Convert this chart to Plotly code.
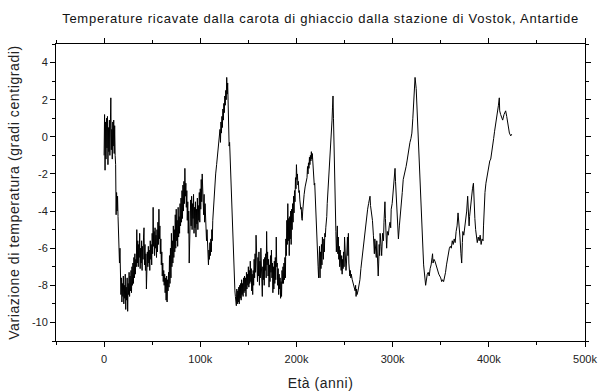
import plotly.graph_objects as go

# Vostok ice core temperature anomaly, (age in thousand years, temperature in deg C)
seg_holocene = [(0,-1.0),(0.5,1.2),(1,-1.8),(1.5,0.8),(2,-1.2),(2.5,1.0),(3,-0.6),(3.5,1.1),(4,-1.5),(4.5,0.5),
                (5,-0.8),(5.5,0.9),(6,-1.0),(6.5,0.6),(7,2.1),(7.5,-0.7),(8,0.4),(8.5,-1.2),(9,0.8),(9.5,-0.5),
                (10,0.9),(10.5,-0.9),(11,0.6),(11.5,-1.0)]
seg_drop1 = [(12,-1.5),(12.5,-4.2),(13,-3.0),(13.5,-4.0),(14,-3.2),(14.5,-4.3),(15,-5.0),(15.5,-6.2),(16,-6.8),
             (16.5,-6.0),(17,-7.8),(17.5,-8.5)]
seg_lgm = [(18,-7.6),(18.5,-8.9),(19,-7.9),(19.5,-8.6),(20,-7.5),(20.5,-9.0),(21,-8.0),(21.5,-8.7),(22,-7.4),
           (22.5,-9.3),(23,-8.1),(23.5,-8.8),(24,-7.6),(24.5,-9.4),(25,-7.9),(25.5,-8.5),(26,-7.3),(26.5,-8.6),
           (27,-7.5),(27.5,-8.3),(28,-7.2),(28.5,-8.4),(29,-7.0),(29.5,-8.0),(30,-6.8),(30.5,-7.9),(31,-6.5),
           (31.5,-7.6),(32,-6.3),(32.5,-7.4),(33,-6.6),(33.5,-7.0)]
seg_mis3a = [(34,-5.0),(34.5,-6.8),(35,-5.6),(35.5,-7.0),(36,-5.8),(36.5,-6.5),(37,-5.2),(37.5,-7.1),(38,-6.0),
             (38.5,-6.8),(39,-5.6),(39.5,-7.2),(40,-5.9),(40.5,-6.6),(41,-5.4),(41.5,-4.9),(42,-6.9),(42.5,-5.8),
             (43,-7.2),(43.5,-6.3),(44,-8.2),(44.5,-6.5)]
seg_mis3b = [(45,-6.2),(45.5,-7.0),(46,-5.9),(46.5,-6.8),(47,-6.1),(47.5,-7.2),(48,-5.6),(48.5,-6.6),(49,-5.8),
             (49.5,-6.9),(50,-5.2),(50.5,-6.3),(51,-3.8),(51.5,-5.9),(52,-5.1),(52.5,-6.4),(53,-4.9),(53.5,-6.0),
             (54,-5.3),(54.5,-6.5),(55,-5.0),(55.5,-6.2),(56,-4.6),(56.5,-5.8),(57,-3.9),(57.5,-5.5),(58,-4.8),
             (58.5,-6.3),(59,-5.5),(59.5,-6.9),(60,-6.2),(60.5,-7.5),(61,-6.8),(61.5,-7.8),(62,-7.2),(62.5,-8.0),
             (63,-7.4),(63.5,-8.4),(64,-7.6),(64.5,-8.8),(65,-7.5),(65.5,-8.9),(66,-7.7),(66.5,-8.3),(67,-7.3),
             (67.5,-8.1)]
seg_mis5a = [(68,-6.4),(68.5,-7.9),(69,-6.0),(69.5,-7.6),(70,-5.2),(70.5,-7.0),(71,-5.6),(71.5,-6.8),(72,-4.8),
             (72.5,-6.5),(73,-5.0),(73.5,-6.2),(74,-4.2),(74.5,-6.0),(75,-3.9),(75.5,-5.6),(76,-4.5),(76.5,-5.9),
             (77,-3.8),(77.5,-5.4),(78,-4.3),(78.5,-5.2),(79,-3.6),(79.5,-4.8),(80,-3.3),(80.5,-4.6),(81,-2.9),
             (81.5,-4.4),(82,-2.6),(82.5,-4.0),(83,-2.4),(83.5,-3.6),(84,-1.7),(84.5,-3.2),(85,-2.5),(85.5,-3.8),
             (86,-2.9),(86.5,-4.5),(87,-3.5),(87.5,-5.2),(88,-4.0),(88.5,-6.8),(89,-4.6),(89.5,-5.4),(90,-3.4),
             (90.5,-4.8),(91,-3.2),(91.5,-5.0),(92,-3.6),(92.5,-4.4),(93,-3.1),(93.5,-5.2),(94,-3.8),(94.5,-4.9),
             (95,-3.5),(95.5,-5.4),(96,-3.9),(96.5,-4.7),(97,-3.3),(97.5,-5.0),(98,-3.7),(98.5,-4.5),(99,-3.0),
             (99.5,-4.6),(100,-2.8),(100.5,-3.9),(101,-2.3),(101.5,-3.5),(102,-2.0),(102.5,-3.2)]
seg_mis5e = [(103,-3.4),(103.5,-4.2),(104,-3.1),(104.5,-4.6),(105,-3.6),(105.5,-4.9),(106,-4.4),(106.5,-5.6),
             (107,-5.0),(107.5,-6.3),(108,-6.0),(108.5,-6.9),(109,-6.1),(109.5,-6.6),(110,-5.7),(110.5,-6.4),
             (111,-5.5),(111.5,-6.2),(112,-5.0),(112.5,-5.6),(113,-4.5),(114,-3.4),(115,-2.4),(116,-2.0),
             (117,-1.5),(118,-1.0),(119,-0.7),(120,-0.2),(120.5,0.4),(121,-0.3),(121.5,0.8),(122,0.2),(122.5,1.1),
             (123,0.5),(123.5,1.5),(124,0.9),(124.5,1.8),(125,1.3),(125.5,2.2),(126,1.7),(126.5,2.5),(127,2.0),
             (127.5,3.2),(128,2.3),(128.5,2.9),(129,1.6),(129.5,-0.2),(130,-0.5),(130.5,-0.3),(131,-1.0),
             (131.5,-1.7),(132,-2.5),(132.5,-3.5),(133,-4.3),(133.5,-5.3),(134,-6.2),(134.5,-6.9),(135,-7.2),
             (135.5,-7.6),(136,-8.3),(136.5,-8.6),(137,-8.9),(137.5,-9.1)]
seg_mis6 = [(138,-8.2),(138.5,-9.0),(139,-8.3),(139.5,-8.9),(140,-8.1),(140.5,-9.0),(141,-8.0),(141.5,-8.7),
            (142,-7.9),(142.5,-8.8),(143,-7.7),(143.5,-8.5),(144,-7.9),(144.5,-8.6),(145,-7.6),(145.5,-8.4),
            (146,-7.5),(146.5,-8.3),(147,-7.6),(147.5,-8.6),(148,-7.3),(148.5,-8.2),(149,-7.4),(149.5,-8.0),
            (150,-7.0),(150.5,-8.1),(151,-7.2),(151.5,-7.9),(152,-6.7),(152.5,-7.8),(153,-7.1),(153.5,-8.3),
            (154,-7.4),(154.5,-8.5),(155,-7.2),(155.5,-8.0),(156,-6.6),(156.5,-7.6),(157,-6.3),(157.5,-7.3),
            (158,-5.3),(158.5,-7.0),(159,-6.4),(159.5,-7.8),(160,-6.5),(160.5,-7.5),(161,-6.2),(161.5,-8.0),
            (162,-6.7),(162.5,-7.6),(163,-6.0),(163.5,-7.4),(164,-6.9),(164.5,-8.6),(165,-7.0),(165.5,-7.7),
            (166,-6.6),(166.5,-8.0),(167,-6.5),(167.5,-7.2),(168,-6.3),(168.5,-7.6),(169,-5.1),(169.5,-6.9),
            (170,-6.2),(170.5,-7.5),(171,-6.6),(171.5,-8.1),(172,-6.9),(172.5,-7.8),(173,-6.4),(173.5,-7.3),
            (174,-6.1),(174.5,-7.6),(175,-6.8),(175.5,-8.4),(176,-7.0),(176.5,-8.2),(177,-6.7),(177.5,-7.9),
            (178,-6.5),(178.5,-7.7),(179,-5.4),(179.5,-7.0),(180,-6.8),(180.5,-8.0),(181,-7.1),(181.5,-8.5),
            (182,-7.4),(182.5,-8.2),(183,-7.6),(183.5,-8.7),(184,-7.8),(184.5,-8.6),(185,-7.2),(185.5,-7.9),
            (186,-7.0),(186.5,-7.9),(187,-6.8),(187.5,-7.7),(188,-6.5),(188.5,-7.6),(189,-5.5),(189.5,-6.4),
            (190,-4.5),(190.5,-5.8)]
seg_mis7 = [(191,-3.6),(191.5,-5.6),(192,-4.4),(192.5,-6.4),(193,-4.3),(193.5,-5.5),(194,-4.0),(194.5,-5.8),
            (195,-3.9),(195.5,-5.0),(196,-3.6),(196.5,-4.6),(197,-3.2),(197.5,-4.1),(198,-2.9),(198.5,-3.5),
            (199,-2.2),(199.5,-2.8),(200,-1.5),(200.5,-2.3),(201,-2.0),(201.5,-2.6),(202,-2.4),(202.5,-3.0),
            (203,-2.9),(203.5,-3.4),(204,-3.6),(204.5,-3.9),(205,-3.8),(205.5,-4.4),(206,-4.5),(206.5,-4.0),
            (207,-3.6),(207.5,-3.3),(208,-3.1),(209,-2.7),(210,-2.4),(211,-2.2),(211.5,-1.6),(212,-2.0),
            (212.5,-1.4),(213,-1.7),(213.5,-1.1),(214,-1.5),(214.5,-1.0),(215,-1.3),(215.5,-0.8),(216,-1.2),
            (216.5,-0.9),(217,-1.5),(217.5,-1.9),(218,-2.2),(218.5,-2.6),(219,-2.5),(219.5,-3.3),(220,-4.0),
            (220.5,-4.8),(221,-5.3),(221.5,-6.0),(222,-6.4),(222.5,-7.0),(223,-7.6),(223.5,-6.4),(224,-5.9),
            (224.5,-7.6),(225,-6.2),(225.5,-7.1),(226,-5.8),(226.5,-6.9),(227,-5.4),(227.5,-6.1),(228,-6.6),
            (228.5,-5.5),(229,-6.2),(229.5,-5.2),(230,-5.4),(230.5,-4.9),(231,-4.7),(231.5,-4.3),(232,-3.6),
            (232.5,-3.2),(233,-2.7),(233.5,-2.3),(234,-1.9),(234.5,-1.5),(235,-1.0),(235.5,-0.4),(236,0.0),
            (236.5,0.3),(237,0.9),(237.5,1.6),(238,2.2),(238.5,1.0),(239,-0.8),(239.5,-2.1),(240,-3.2),
            (240.5,-4.2),(241,-5.1),(241.5,-6.2),(242,-5.0),(242.5,-4.8),(243,-6.3),(243.5,-5.4),(244,-6.6),
            (244.5,-5.9),(245,-7.0),(245.5,-6.1),(246,-6.8),(246.5,-7.2),(247,-6.4),(247.5,-7.4),(248,-6.6),
            (248.5,-7.1),(249,-6.2),(249.5,-7.0),(250,-5.4),(250.5,-6.6),(251,-6.3),(251.5,-7.2),(252,-6.8),
            (252.5,-6.0),(253,-5.4),(253.5,-6.4),(254,-5.2),(254.5,-6.8),(255,-7.0),(255.5,-7.5),(256,-7.2),
            (256.5,-7.6),(257,-7.4)]
seg_mis8 = [(258,-7.7),(259,-7.9),(260,-8.2),(261,-8.3),(261.5,-8.0),(262,-8.6),(262.5,-8.2),(263,-8.5),
            (264,-8.3),(265,-8.0),(266,-7.7),(267,-7.1),(268,-6.6),(269,-6.2),(270,-5.7),(271,-5.1),(272,-4.6),
            (273,-4.2),(274,-3.9),(275,-3.6),(276,-3.4),(276.5,-3.2),(277,-3.7),(278,-4.1),(279,-4.5),
            (280,-5.3),(281,-6.3),(281.5,-5.5),(282,-6.0),(283,-6.5),(283.5,-5.6),(284,-6.9),(285,-7.5),
            (285.5,-6.8),(286,-5.8),(286.5,-6.4),(287,-5.2),(288,-5.9),(288.6,-6.4),(289.5,-5.2),(290.5,-5.6),
            (291,-4.6),(292,-3.5),(292.5,-4.4),(293,-5.0),(293.8,-6.0),(294.5,-5.1),(295.5,-5.3),(296.5,-4.8),
            (297.3,-4.6),(298,-4.9),(298.5,-3.9),(299.5,-3.6),(300,-3.2)]
seg_mis9 = [(301,-2.6),(302,-2.0),(302.5,-1.7),(303,-2.4),(304,-3.6),(305,-4.6),(306,-5.5),(307,-4.8),
            (308,-4.3),(309,-3.8),(310,-3.0),(311,-2.3),(312,-2.1),(313,-1.9),(314,-1.6),(315,-1.3),(316,-0.9),
            (317,-0.5),(318,-0.3),(319,-0.1),(320,0.2),(321,1.0),(322,1.9),(322.3,2.4),(323.3,3.2),(324.5,2.6),
            (325.7,1.1),(326.5,-0.5),(327.8,-2.1),(329,-3.7),(330.5,-5.1),(332.2,-6.9),(334.3,-8.0)]
seg_mis10 = [(335,-7.7),(336,-7.4),(337,-7.3),(338,-7.5),(339,-7.1),(340,-6.9),(341,-6.5),(341.5,-6.3),
             (342,-6.8),(343,-6.6),(344,-6.7),(345,-6.9),(346,-7.0),(347,-7.2),(348,-7.4),(349,-7.5),(350,-7.6),
             (351,-7.8),(352,-7.7),(353,-7.8),(354,-7.6),(355,-7.3),(356,-6.9),(357,-6.5),(358,-6.3),(359,-6.0),
             (360,-5.9),(361,-6.0),(362,-5.6),(363,-5.8),(364,-5.5),(365,-5.7),(366,-5.1),(367,-4.8),(368,-4.1),
             (369,-4.6),(370,-5.4),(371,-6.3),(371.8,-6.8),(372.5,-5.7),(373,-5.1),(374,-5.3),(375,-4.8),
             (376,-4.6),(377,-4.0),(378,-3.2),(378.8,-4.2),(379.5,-4.8),(380,-4.3),(381,-3.7),(382,-3.2),
             (383,-2.8),(384,-2.5),(384.6,-3.7),(385.5,-4.4),(386.3,-5.0),(387,-5.5),(388,-5.7),(389,-5.4),
             (390,-5.6),(391,-5.3),(392,-5.8),(393,-5.5),(394,-5.6),(394.5,-4.8)]
seg_mis11 = [(395,-3.7),(396,-3.0),(397,-2.5),(398,-2.2),(399,-1.8),(400,-1.6),(401,-1.3),(402,-1.2),(403,-0.9),
             (404,-0.5),(405,-0.1),(406,0.3),(407,0.6),(408,1.0),(409,1.3),(410,1.7),(410.9,2.1),(411.3,1.4),
             (412.3,1.2),(413.4,1.0),(414.4,0.9),(415.8,1.2),(417.5,1.4),(418.6,1.1),(420.3,0.6),(421.4,0.2),
             (422.8,0.05),(423.8,0.14)]

segments = [seg_holocene, seg_drop1, seg_lgm, seg_mis3a, seg_mis3b, seg_mis5a, seg_mis5e, seg_mis6,
            seg_mis7, seg_mis8, seg_mis9, seg_mis10, seg_mis11]

x_tickvals = [0, 100000, 200000, 300000, 400000, 500000]
x_ticktext = ["0", "100k", "200k", "300k", "400k", "500k"]
y_tickvals = [-10, -8, -6, -4, -2, 0, 2, 4]
y_ticktext = ["-10", "-8", "-6", "-4", "-2", "0", "2", "4"]

ages = [a * 1000 for seg in segments for a, _ in seg]
temps = [t for seg in segments for _, t in seg]

fig = go.Figure()
fig.add_trace(go.Scatter(x=ages, y=temps, mode="lines",
                         line=dict(color="black", width=1), showlegend=False))

font_family = "Liberation Sans, Arial, sans-serif"
axis_common = dict(showline=True, linecolor="black", linewidth=1, mirror="ticks",
                   ticks="outside", ticklen=5, tickcolor="black", showgrid=False, zeroline=False,
                   automargin=False,
                   tickfont=dict(family=font_family, size=11, color="#222"))

fig.update_layout(
    width=610, height=391,
    margin=dict(l=56, r=25, t=44, b=50, autoexpand=False),
    paper_bgcolor="white", plot_bgcolor="white",
    title=dict(text="Temperature ricavate dalla carota di ghiaccio dalla stazione di Vostok, Antartide",
               x=0.5, xref="paper", xanchor="center", y=0.965, yref="container",
               font=dict(family=font_family, size=13, color="#111")),
    xaxis=dict(range=[-50000, 500000], tickvals=x_tickvals, ticktext=x_ticktext,
               minor=dict(dtick=50000, tick0=0, ticks="outside", ticklen=3, tickcolor="black"),
               ticklabelstandoff=3,
               title=dict(text="Età (anni)", font=dict(family=font_family, size=14, color="#222"), standoff=14),
               **axis_common),
    yaxis=dict(range=[-11, 5], tickvals=y_tickvals, ticktext=y_ticktext,
               minor=dict(dtick=1, tick0=0, ticks="outside", ticklen=3, tickcolor="black"),
               title=dict(text="Variazione di temperatura (gradi centigradi)",
                          font=dict(family=font_family, size=14, color="#222"), standoff=8),
               **axis_common),
)

post = ("document.body.style.margin='0';"
        "var t=document.querySelector('.gtitle'); if(t){t.style.letterSpacing='0.75px';}"
        "var xt=document.querySelector('.xtitle'); if(xt){xt.style.letterSpacing='0.5px';}"
        "var yt=document.querySelector('.ytitle'); if(yt){yt.style.letterSpacing='0.6px';}")

fig.write_html("out.html", post_script=post, config={"displayModeBar": False})
